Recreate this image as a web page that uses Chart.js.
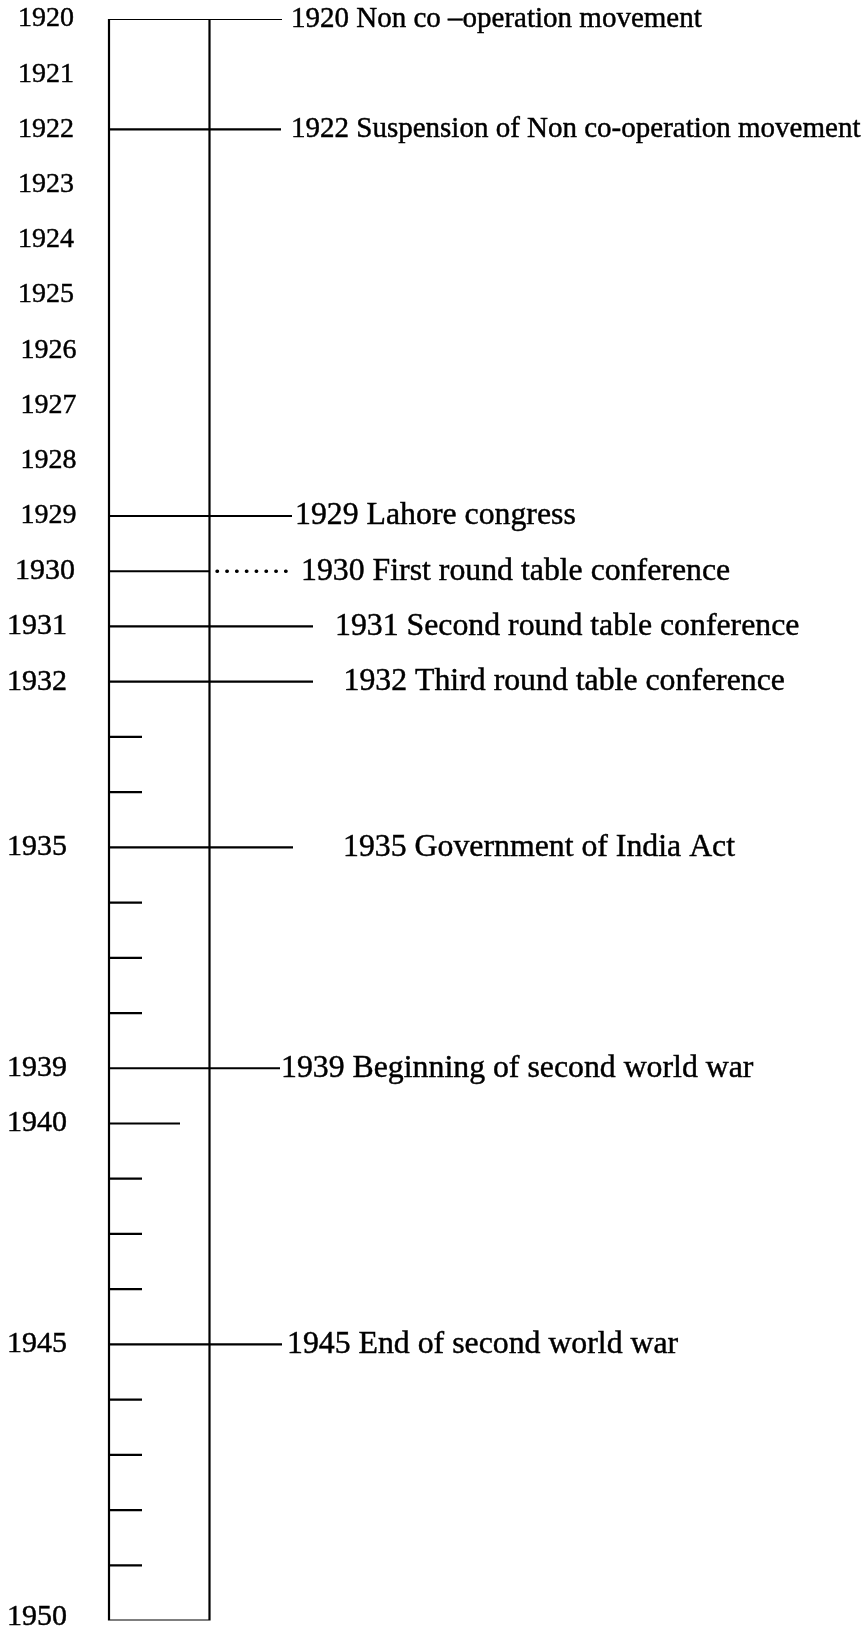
<!DOCTYPE html>
<html>
<head>
<meta charset="utf-8">
<script src="https://cdn.jsdelivr.net/npm/chart.js@4.4.1/dist/chart.umd.min.js"></script>
<style>
  html, body { margin: 0; padding: 0; background: #fff; }
  #wrap { width: 868px; height: 1632px; }
</style>
</head>
<body>
<div id="wrap"><canvas id="timeline" width="868" height="1632"></canvas></div>
<script>
// rows of the timeline column, top to bottom ('' = unlabelled tick)
const rows = ['1920', '1921', '1922', '1923', '1924', '1925', '1926', '1927', '1928', '1929', '1930', '1931', '1932',
  '', '', '1935', '', '', '', '1939', '1940', '', '', '', '1945', '', '', '', '', '1950'];

const eventYears = ['1920', '1922', '1929', '1930', '1931', '1932', '1935', '1939', '1945'];
const eventTexts = [
  '1920 Non co \u2013operation movement',
  '1922 Suspension of Non co-operation movement',
  '1929 Lahore congress',
  '1930 First round table conference',
  '1931 Second round table conference',
  '1932 Third round table conference',
  '1935 Government of India Act',
  '1939 Beginning of second world war',
  '1945 End of second world war',
];
const plainMarks = ['1940'];

/* ---- layout (pixels on a 0..868 x scale) ---- */
const BOX_LEFT = 109, BOX_RIGHT = 209.5, TICK_END = 142, MARK_END = 180;
const connectorEnd = [282, 281, 292, 293, 313, 313, 293, 280, 282];
const textStart = [291, 291, 295, 301, 335, 343.5, 343, 281, 287];
const textSize = [29, 29, 31.8, 31.8, 31.8, 31.8, 31.8, 31.8, 31.8];
const DOTS_FROM = 217;   // 1930 connector turns dotted right of the inner line

function labelX(lab) {
  const n = +lab;
  if (n <= 1925) return 18;
  if (n <= 1929) return 20.5;
  if (n === 1930) return 15;
  return 7;
}
const labelSize = lab => (+lab <= 1929 ? 28 : 30);
const FONT = '"Liberation Serif", "Times New Roman", serif';

const row = lab => rows.indexOf(lab);
const last = rows.length - 1;

function seg(x0, x1, r, extra) {
  return Object.assign({
    data: [{ x: x0, y: r }, { x: x1, y: r }],
    showLine: true, pointRadius: 0, borderColor: '#000', borderWidth: 2.2, fill: false,
  }, extra);
}

const datasets = [];
// the open-topped box of the time line
datasets.push({
  data: [{ x: BOX_LEFT, y: 0 }, { x: BOX_LEFT, y: last }, { x: BOX_RIGHT, y: last }, { x: BOX_RIGHT, y: 0 }],
  showLine: true, pointRadius: 0, borderColor: '#000', borderWidth: 2.2, borderJoinStyle: 'miter', fill: false,
});

eventYears.forEach((yr, i) => {
  const r = row(yr);
  if (yr === '1930') {
    datasets.push(seg(BOX_LEFT - 1, BOX_RIGHT, r));
    datasets.push(seg(DOTS_FROM, connectorEnd[i], r, { borderDash: [0.5, 9.3], borderCapStyle: 'round', borderWidth: 3.4 }));
  } else {
    datasets.push(seg(BOX_LEFT - 1, connectorEnd[i], r));
  }
});
plainMarks.forEach(yr => datasets.push(seg(BOX_LEFT - 1, MARK_END, row(yr))));
rows.forEach((lab, r) => { if (lab === '') datasets.push(seg(BOX_LEFT - 1, TICK_END, r)); });

// year labels on the left and event texts on the right
const textPlugin = {
  id: 'timelineText',
  afterDatasetsDraw(chart) {
    const { ctx, scales: { x, y } } = chart;
    ctx.save();
    ctx.fillStyle = '#000';
    ctx.strokeStyle = '#000';
    ctx.lineWidth = 0.45;
    ctx.textBaseline = 'middle';
    ctx.textAlign = 'left';
    const put = (t, px, py) => { ctx.fillText(t, px, py); ctx.strokeText(t, px, py); };
    rows.forEach((lab, r) => {
      if (!lab) return;
      ctx.font = labelSize(lab) + 'px ' + FONT;
      const shift = r === last ? -3 : 0;
      put(lab, x.getPixelForValue(labelX(lab)), y.getPixelForValue(r) + shift);
    });
    eventYears.forEach((yr, i) => {
      ctx.font = textSize[i] + 'px ' + FONT;
      put(eventTexts[i], x.getPixelForValue(textStart[i]), y.getPixelForValue(row(yr)));
    });
    ctx.restore();
  },
};

new Chart(document.getElementById('timeline'), {
  type: 'scatter',
  data: { datasets },
  options: {
    responsive: false,
    animation: false,
    layout: { padding: { top: 19, bottom: 11.5, left: 0, right: 0 } },
    plugins: { legend: { display: false }, tooltip: { enabled: false } },
    scales: {
      x: { type: 'linear', min: 0, max: 868, display: false },
      y: { type: 'linear', min: 0, max: last, reverse: true, display: false },
    },
  },
  plugins: [textPlugin],
});
</script>
</body>
</html>
